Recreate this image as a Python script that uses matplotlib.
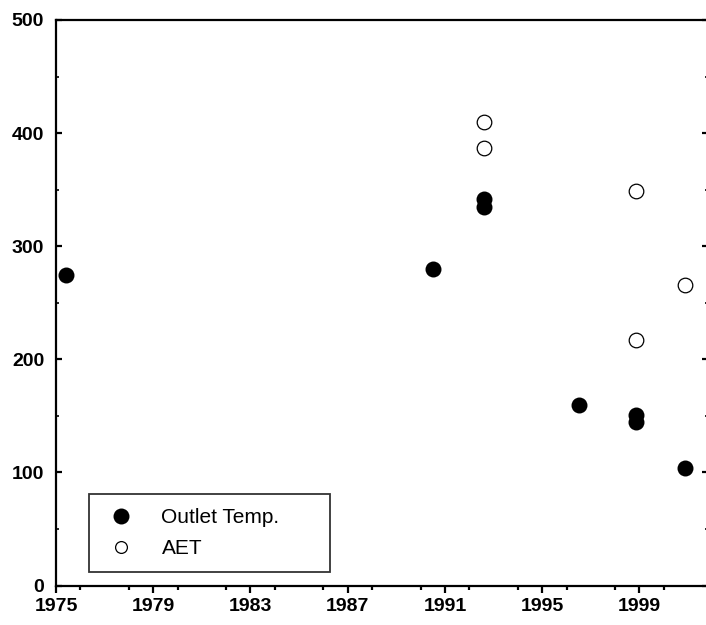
import matplotlib
matplotlib.use("Agg")
import matplotlib.pyplot as plt
from matplotlib.lines import Line2D
from matplotlib.ticker import MultipleLocator

plt.rcParams['font.family'] = ['Liberation Sans', 'DejaVu Sans']

outlet_years = [1975.4, 1990.5, 1992.6, 1992.6, 1996.5, 1998.85, 1998.85, 2000.87]
outlet_temp = [274.5, 280, 342, 335, 160, 151, 145, 103.5]
aet_years = [1992.6, 1992.6, 1998.85, 1998.85, 2000.87]
aet_vals = [410, 386.5, 349, 217, 265.5]
xticks = [1975, 1979, 1983, 1987, 1991, 1995, 1999]
yticks = [0, 100, 200, 300, 400, 500]

W, H = 706, 625
fig = plt.figure(figsize=(W / 100, H / 100), dpi=100)
l, r, t, b = 56, 707.5, 20, 585.5
ax = fig.add_axes([l / W, (H - b) / H, (r - l) / W, (b - t) / H])

ax.plot(outlet_years, outlet_temp, 'o', color='black', markersize=11.5,
        markeredgewidth=0, clip_on=False, zorder=3)
ax.plot(aet_years, aet_vals, 'o', markerfacecolor='white', markeredgecolor='black',
        markersize=10.5, markeredgewidth=0.9, clip_on=False, zorder=3)

ax.set_xlim(1975, 2001.8)
ax.set_ylim(0, 500)
ax.set_xticks(xticks)
ax.set_yticks(yticks)
ax.xaxis.set_minor_locator(MultipleLocator(2))
ax.yaxis.set_minor_locator(MultipleLocator(50))

for s in ['left', 'bottom', 'top']:
    ax.spines[s].set_linewidth(1.6)
ax.spines['right'].set_visible(False)

ax.tick_params(axis='x', which='major', direction='out', length=5, width=1.6,
               labelsize=14, pad=4)
ax.tick_params(axis='x', which='minor', direction='out', length=3, width=1.6)
ax.tick_params(axis='y', which='major', direction='in', length=4.5, width=1.6,
               labelsize=14, pad=8.5, right=True)
ax.tick_params(axis='y', which='minor', direction='in', length=2, width=1.2, right=True)
for lab in ax.get_xticklabels() + ax.get_yticklabels():
    lab.set_fontweight('bold')

handles = [
    Line2D([], [], linestyle='none', marker='o', color='black', markersize=11.5,
           markeredgewidth=0, label='Outlet Temp.'),
    Line2D([], [], linestyle='none', marker='o', markerfacecolor='white',
           markeredgecolor='black', markersize=8.5, markeredgewidth=0.9, label='AET'),
]
leg = ax.legend(handles=handles, loc='lower left',
                bbox_to_anchor=(0.05, 0.024, 0.37, 0.14), mode='expand',
                fontsize=15, frameon=True, fancybox=False, handlelength=1.8,
                handletextpad=1.05, borderpad=0.65, labelspacing=0.6,
                borderaxespad=0)
leg.get_frame().set_edgecolor('black')
leg.get_frame().set_linewidth(1.3)

fig.savefig('out.png', dpi=100)
